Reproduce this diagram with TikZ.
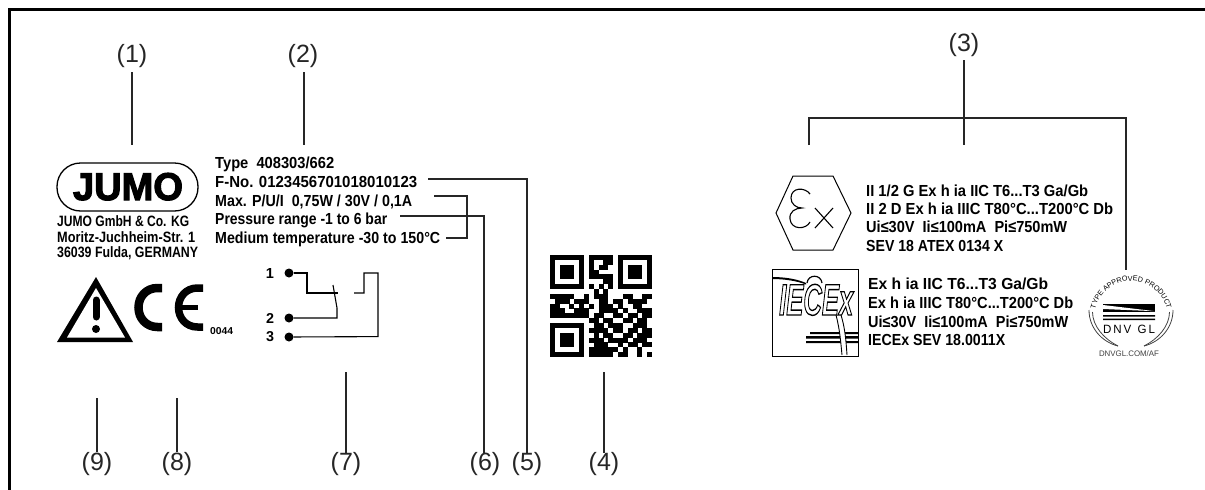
\documentclass[tikz,border=0pt]{standalone}
\usepackage{fontspec}
\usepackage{graphicx}
\usetikzlibrary{decorations.text}
\setmainfont{Liberation Sans}
\newfontfamily\heavyf{Liberation Sans Bold}[FakeBold=3]
\newcommand\fitw[2]{\resizebox{#1pt}{\height}{#2}}
\newcount\qrx
\newcommand\qrsz{4.857}
\def\qrscan#1{\ifx#1.\else\if#11\fill ({550+\the\qrx*\qrsz},{255+\qry*\qrsz}) rectangle +({\qrsz+0.1},{\qrsz+0.1});\fi\advance\qrx by 1 \expandafter\qrscan\fi}
\tikzset{
  conn/.style={draw=black!85,line width=1.5pt,line join=miter},
  wire/.style={draw=black,line width=1.1pt},
  thin line/.style={draw=black,line width=1pt},
  callout/.style={font=\fontsize{25}{25}\selectfont,text=black!85,inner sep=0pt,anchor=base},
  plate/.style={font=\fontsize{16}{16}\selectfont\bfseries,inner sep=0pt,anchor=base west},
  addr/.style={font=\fontsize{15}{15}\selectfont\bfseries,inner sep=0pt,anchor=base west},
  cert/.style={font=\fontsize{16}{16}\selectfont\bfseries,inner sep=0pt,anchor=base west},
  term/.style={font=\fontsize{14}{14}\selectfont\bfseries,inner sep=0pt},
  dotn/.style={circle,fill=black,inner sep=0pt,minimum size=9pt},
}
\begin{document}
\begin{tikzpicture}[x=1pt,y=-1pt]
\useasboundingbox (0,0) rectangle (1205,490);
\draw[line width=2.8pt,line cap=rect] (9.5,490) -- (9.5,9.6) -- (1205,9.6);

% callout labels
\node[callout] (l1) at (132,62) {(1)};
\node[callout] (l2) at (303,62) {(2)};
\node[callout] (l3) at (964,51) {(3)};
\node[callout] (l9) at (97,470) {(9)};
\node[callout] (l8) at (177,470) {(8)};
\node[callout] (l7) at (346,470) {(7)};
\node[callout] (l6) at (485,470) {(6)};
\node[callout] (l5) at (527,470) {(5)};
\node[callout] (l4) at (604,470) {(4)};

% plate text
\node[plate] (type) at (215,168) {\fitw{119}{Type\ \ 408303/662}};
\node[plate] (fno) at (215,187) {\fitw{202}{F-No. 0123456701018010123}};
\node[plate] (max) at (215,206) {\fitw{197}{Max. P/U/I\ \ 0,75W / 30V / 0,1A}};
\node[plate] (pres) at (215,224.5) {\fitw{172}{Pressure range -1 to 6 bar}};
\node[plate] (med) at (215,243.5) {\fitw{225}{Medium temperature -30 to 150°C}};

% coordinates for connector ends
\coordinate (a1) at (132,72); \coordinate (b1) at (132,145);
\coordinate (a2) at (304,72); \coordinate (b2) at (304,145);
\coordinate (a3) at (964,60); \coordinate (b3) at (964,145);
\coordinate (j3) at (964,118);
\coordinate (bl) at (809,145); \coordinate (br) at (1126,270);
\coordinate (c9) at (97,398); \coordinate (d9) at (97,452);
\coordinate (c8) at (177,398); \coordinate (d8) at (177,452);
\coordinate (c7) at (346,372); \coordinate (d7) at (346,453);
\coordinate (c4) at (604,372); \coordinate (d4) at (604,453);
\coordinate (d6) at (484,453); \coordinate (d5) at (527,453);
\coordinate (fe) at (428,179); \coordinate (pe) at (400,216);
\coordinate (me) at (434,196); \coordinate (te) at (446,238);

\draw[conn] (a1) -- (b1);
\draw[conn] (a2) -- (b2);
\draw[conn] (a3) -- (b3);
\draw[conn] (bl) |- (j3) -| (br);
\draw[conn] (c9) -- (d9);
\draw[conn] (c8) -- (d8);
\draw[conn] (c7) -- (d7);
\draw[conn] (c4) -- (d4);
\draw[conn] (fe) -| (d5);
\draw[conn] (pe) -| (d6);
\draw[conn] (me) -- (467,196) -- (467,238) -- (te);

% JUMO logo
\node[draw,line width=1.3pt,rounded corners=23.5pt,minimum width=141pt,minimum height=48pt,inner sep=0pt] (logo) at (127.5,187) {};
\node[inner sep=0pt,anchor=base] (jumo) at (128,200) {\resizebox{110pt}{27pt}{\heavyf JUMO}};
\node[addr] (ad1) at (57,226) {\fitw{132}{JUMO GmbH \& Co. KG}};
\node[addr] (ad2) at (57,242) {\fitw{138}{Moritz-Juchheim-Str. 1}};
\node[addr] (ad3) at (57,257) {\fitw{141}{36039 Fulda, GERMANY}};

% warning triangle
\fill (96,277) -- (133,342) -- (57,342) -- cycle;
\fill[white] (96,288) -- (125,337.5) -- (67,337.5) -- cycle;
\draw[line width=7pt,line cap=round] (96,300) -- (96,317);
\fill (96,329) circle[radius=4];

% CE
\draw[line width=8.5pt] (162,288) -- (157.5,288) .. controls (146,288) and (138.5,297) .. (138.5,307.5) .. controls (138.5,318) and (146,327) .. (157.5,327) -- (162,327);
\draw[line width=7.5pt] (203,288) -- (197.5,288) .. controls (186,288) and (178.5,297) .. (178.5,307.5) .. controls (178.5,318) and (186,327) .. (197.5,327) -- (203,327);
\draw[line width=5pt] (179,307.5) -- (198,307.5);
\node[inner sep=0pt,anchor=base west,font=\fontsize{10}{10}\selectfont\bfseries] (ce) at (210,334) {\fitw{23}{0044}};

% contact schematic
\node[term] (t1) at (270,273) {\resizebox{!}{10pt}{1}};
\node[term] (t2) at (270,318) {\resizebox{!}{10pt}{2}};
\node[term] (t3) at (270,337) {\resizebox{!}{10pt}{3}};
\node[dotn] (p1) at (289,273) {};
\node[dotn] (p2) at (289,318) {};
\node[dotn] (p3) at (289,337) {};
\draw[wire] (p1) -- (307,273) -- (307,293) -- (338,293);
\draw[wire] (333,285) -- (337,308) -- (337,318) -- (p2);
\draw[wire] (354,293) -- (364,293) -- (364,273) -- (378,273) -- (378,336.6) -- (p3);

% QR code
\foreach \qrrow [count=\qrn from 0] in {
111111101111101111111,
100000101001101000001,
101110101011001011101,
101110101100001011101,
101110101111101011101,
100000100001101000001,
111111101010101111111,
000000000101000000000,
111110010111000110011,
011101110011011011110,
110010101011101001100,
111001110011110100111,
111111110110011011011,
000000001101100110110,
111111100110111001110,
100000101111011011011,
101110100101100110111,
101110101110111101110,
101110100111001011011,
100000101111110100100,
111111101111101100101}{
  \pgfmathtruncatemacro\qry{\qrn}
  \global\qrx=0
  \expandafter\qrscan\qrrow.
}

% Ex mark
\draw[thin line] (776,213) -- (793,176) -- (833,176) -- (851,213) -- (833,250) -- (793,250) -- cycle;
\draw[thin line,line width=1.1pt] (810,194) .. controls (805,187) and (791,187) .. (791,198) .. controls (791,204) and (796,208) .. (802,208) .. controls (795,208) and (789,212) .. (790,219) .. controls (791,230) and (806,230) .. (810,222);
\draw[thin line,line width=1.1pt] (815,208) -- (833,228) (833,208) -- (815,228);
\node[cert] (e1) at (866,196.5) {\fitw{222}{II 1/2 G Ex h ia IIC T6...T3 Ga/Gb}};
\node[cert] (e2) at (866,214) {\fitw{247}{II 2 D Ex h ia IIIC T80°C...T200°C Db}};
\node[cert] (e3) at (866,232.5) {\fitw{201}{Ui≤30V\ \ Ii≤100mA\ \ Pi≤750mW}};
\node[cert] (e4) at (866,251.5) {\fitw{137}{SEV 18 ATEX 0134 X}};

% IECEx mark
\draw[thin line] (772,269) rectangle (858,356);
\fill (772,277) .. controls (785,277) and (797,279) .. (806,283) -- (806,284.5) .. controls (797,281) and (785,279) .. (772,279) -- cycle;
\draw[line width=1.2pt] (807,283) .. controls (808,274) and (821,274) .. (822,283);
\fill (810,332) rectangle (858,334) (806,336) rectangle (858,338.5) (806,341) rectangle (858,343);
\fill[white] (836,315) .. controls (840,330) and (841,345) .. (842,355) -- (847,355) .. controls (846,340) and (845,328) .. (841,315) -- cycle;
\draw[line width=0.9pt] (836,315) .. controls (840,330) and (841,345) .. (842,355);
\draw[line width=0.9pt] (841,315) .. controls (845,328) and (846,340) .. (847,355);
\node[inner sep=0pt,anchor=base west,font=\fontsize{44}{44}\selectfont\bfseries\itshape] (iec) at (779,315) {\special{pdf:code q 1 Tr 1.4 w}\resizebox{74pt}{\height}{IECEx}\special{pdf:code Q}};
\node[cert] (f1) at (868,289.5) {\fitw{180}{Ex h ia IIC T6...T3 Ga/Gb}};
\node[cert] (f2) at (868,308.5) {\fitw{205}{Ex h ia IIIC T80°C...T200°C Db}};
\node[cert] (f3) at (868,327.5) {\fitw{200}{Ui≤30V\ \ Ii≤100mA\ \ Pi≤750mW}};
\node[cert] (f4) at (868,345.5) {\fitw{137}{IECEx SEV 18.0011X}};

% DNV GL mark
\path[decorate,decoration={text along path,text align=center,text={|\fontsize{7.2}{7.2}\selectfont|TYPE APPROVED PRODUCT}}]
  (1094,318) .. controls (1094,297.6) and (1110.6,281) .. (1131,281) .. controls (1151.4,281) and (1168,297.6) .. (1168,318);
\foreach \s in {1,-1}{
  \draw[line width=0.8pt,black!75] ({1131+\s*(-42)},310) .. controls ({1131+\s*(-42)},328) and ({1131+\s*(-29)},342) .. ({1131+\s*(-13)},346);
  \draw[line width=0.8pt,black!75] ({1131+\s*(-38.5)},312) .. controls ({1131+\s*(-38.5)},326) and ({1131+\s*(-27)},339) .. ({1131+\s*(-13)},346);
}
\fill (1103,304) rectangle (1155,312);
\fill[white] (1103,305) -- (1155,311.2) -- (1103,309) -- cycle;
\fill (1103,315) rectangle (1155,316.5) (1103,318.5) rectangle (1155,320);
\node[inner sep=0pt,anchor=base,font=\fontsize{12}{12}\selectfont] (dnv) at (1129,333) {\fitw{52}{D\,N\,V\ \ G\,L}};
\node[inner sep=0pt,anchor=base,text=black!75,font=\fontsize{8}{8}\selectfont] (url) at (1129,356) {\fitw{60}{DNVGL.COM/AF}};
\end{tikzpicture}
\end{document}
